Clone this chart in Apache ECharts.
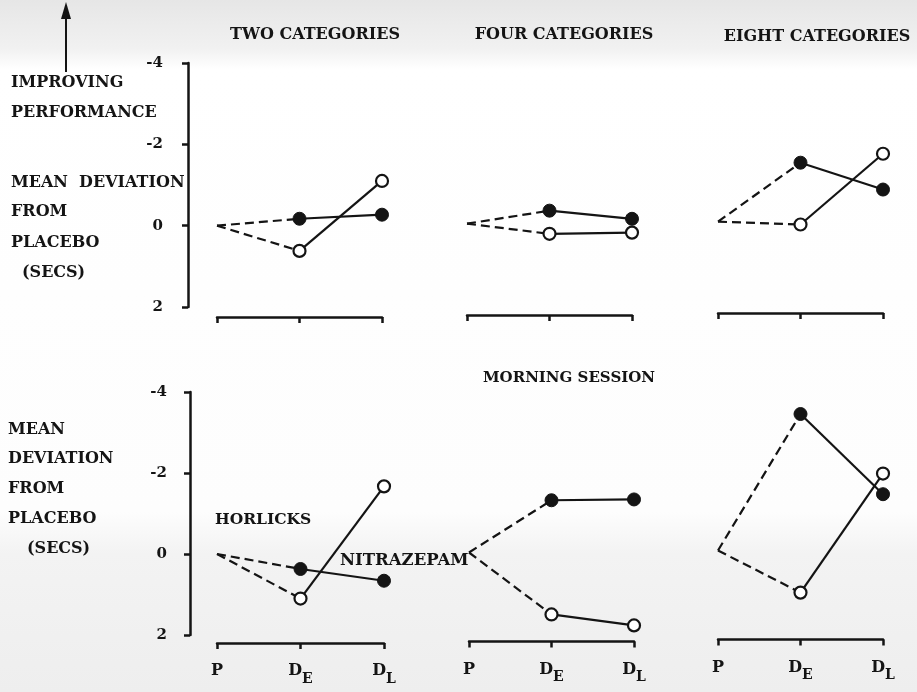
<!DOCTYPE html>
<html>
<head>
<meta charset="utf-8">
<script src="https://cdn.jsdelivr.net/npm/echarts@6/dist/echarts.min.js"></script>
<style>
  html, body { margin: 0; padding: 0; background: #fff; }
  #chart { width: 917px; height: 692px; }
</style>
</head>
<body>
<div id="chart"></div>
<script>
// Treatment points along the x axis
const categories = ['P', 'DE', 'DL'];
const columnTitles = ['TWO CATEGORIES', 'FOUR CATEGORIES', 'EIGHT CATEGORIES'];
const yTicks = [-4, -2, 0, 2];

// Mean deviation from placebo (secs), values at P, D_E, D_L
// Upper row
const nitrazepamTwo = [0, -0.17, -0.27];
const horlicksTwo = [0, 0.62, -1.1];
const nitrazepamFour = [0, -0.32, -0.12];
const horlicksFour = [0, 0.25, 0.22];
const nitrazepamEight = [0, -1.45, -0.79];
const horlicksEight = [0, 0.07, -1.67];
// Lower row (morning session)
const nitrazepamTwoAM = [0, 0.37, 0.66];
const horlicksTwoAM = [0, 1.1, -1.67];
const nitrazepamFourAM = [0, -1.29, -1.31];
const horlicksFourAM = [0, 1.53, 1.8];
const nitrazepamEightAM = [0, -3.37, -1.39];
const horlicksEightAM = [0, 1.04, -1.9];

const panels = [
  { filled: nitrazepamTwo, open: horlicksTwo },
  { filled: nitrazepamFour, open: horlicksFour },
  { filled: nitrazepamEight, open: horlicksEight },
  { filled: nitrazepamTwoAM, open: horlicksTwoAM },
  { filled: nitrazepamFourAM, open: horlicksFourAM },
  { filled: nitrazepamEightAM, open: horlicksEightAM }
];

// Panel boxes (the scanned page sits slightly askew, so later columns ride a little higher)
const boxes = [
  { left: 217, top: 63, width: 165, height: 244 },
  { left: 467, top: 61, width: 165, height: 244 },
  { left: 718, top: 59, width: 165, height: 244 },
  { left: 217, top: 392, width: 167, height: 243 },
  { left: 469, top: 390.5, width: 165, height: 243 },
  { left: 718, top: 388.5, width: 165, height: 243 }
];

const INK = '#141414';
const FONT = 'DejaVu Serif';

const grids = boxes.map(b => ({ left: b.left, top: b.top, width: b.width, height: b.height }));

const xAxes = boxes.map((b, i) => {
  const lower = i >= 3;
  return {
    gridIndex: i,
    type: 'category',
    data: categories,
    boundaryGap: false,
    offset: lower ? 8 : 10,
    axisLine: { onZero: false, lineStyle: { color: INK, width: 2.5 } },
    axisTick: { show: true, length: 6, inside: false, lineStyle: { color: INK, width: 2.5 } },
    axisLabel: {
      show: lower,
      margin: 20,
      formatter: v => v === 'P' ? '{d|P}' : '{d|D}{s|' + v.charAt(1) + '}',
      rich: {
        d: { fontFamily: FONT, fontWeight: 'bold', fontSize: 16, color: INK, verticalAlign: 'top' },
        s: { fontFamily: FONT, fontWeight: 'bold', fontSize: 14, color: INK, padding: [9, 0, 0, 0], verticalAlign: 'bottom' }
      }
    },
    splitLine: { show: false }
  };
});

const yAxes = boxes.map((b, i) => {
  const first = i % 3 === 0;
  return {
    gridIndex: i,
    type: 'value',
    inverse: true,
    min: yTicks[0],
    max: yTicks[yTicks.length - 1],
    interval: 2,
    show: first,
    offset: i === 0 ? 29 : 27,
    axisLine: { show: true, onZero: false, lineStyle: { color: INK, width: 2.5 } },
    axisTick: { show: true, length: 6, lineStyle: { color: INK, width: 2.5 } },
    axisLabel: {
      margin: i === 0 ? 25 : 23,
      fontFamily: FONT, fontWeight: 'bold', fontSize: 15, color: INK
    },
    splitLine: { show: false }
  };
});

// Each group: dashed link from P to D_E, then a solid segment D_E to D_L with markers
const series = [];
panels.forEach((p, i) => {
  [['filled', p.filled], ['open', p.open]].forEach(([kind, vals]) => {
    series.push({
      type: 'line',
      xAxisIndex: i, yAxisIndex: i,
      data: [vals[0], vals[1], null],
      symbol: 'none',
      silent: true,
      z: 2,
      lineStyle: { color: INK, width: 2.2, type: [9, 5] }
    });
    series.push({
      type: 'line',
      xAxisIndex: i, yAxisIndex: i,
      data: [null, vals[1], vals[2]],
      symbol: 'circle',
      symbolSize: kind === 'filled' ? 13 : 12,
      showAllSymbol: true,
      silent: true,
      z: 3,
      lineStyle: { color: INK, width: 2.2 },
      itemStyle: kind === 'filled'
        ? { color: INK, borderColor: INK, borderWidth: 1 }
        : { color: '#ffffff', borderColor: INK, borderWidth: 2.2 }
    });
  });
});

function label(text, x, y, size, align) {
  return {
    type: 'text', x: x, y: y, silent: true,
    style: {
      text: text, align: align || 'left', verticalAlign: 'middle',
      fontFamily: FONT, fontWeight: 'bold', fontSize: size, fill: INK
    }
  };
}

const graphics = [
  // paper tone of the page
  {
    type: 'rect', shape: { x: 0, y: 0, width: 917, height: 692 }, z: -10, silent: true,
    style: {
      fill: new echarts.graphic.LinearGradient(0, 0, 0, 1, [
        { offset: 0, color: '#e6e6e6' },
        { offset: 0.07, color: '#f1f1f1' },
        { offset: 0.1, color: '#ffffff' },
        { offset: 0.74, color: '#fdfdfd' },
        { offset: 0.8, color: '#f3f3f3' },
        { offset: 1, color: '#eeeeee' }
      ])
    }
  },
  // upward arrow: improving performance
  { type: 'line', shape: { x1: 66, y1: 72, x2: 66, y2: 14 }, style: { stroke: INK, lineWidth: 2 }, silent: true },
  { type: 'polygon', shape: { points: [[66, 2], [61, 19], [71, 19]] }, style: { fill: INK }, silent: true },

  label(columnTitles[0], 315, 35, 16, 'center'),
  label(columnTitles[1], 564, 35, 16, 'center'),
  label(columnTitles[2], 817, 37, 16, 'center'),

  label('IMPROVING', 11, 83, 16),
  label('PERFORMANCE', 11, 113, 16),
  label('MEAN  DEVIATION', 11, 183, 16),
  label('FROM', 11, 212, 16),
  label('PLACEBO', 11, 243, 16),
  label('(SECS)', 22, 273, 16),

  label('MEAN', 8, 430, 16),
  label('DEVIATION', 8, 459, 16),
  label('FROM', 8, 489, 16),
  label('PLACEBO', 8, 519, 16),
  label('(SECS)', 27, 549, 16),

  label('HORLICKS', 215, 520, 15.5),
  label('NITRAZEPAM', 340, 561, 16.5),
  label('MORNING SESSION', 483, 378, 15)
];

const chart = echarts.init(document.getElementById('chart'), null, { renderer: 'canvas' });
chart.setOption({
  backgroundColor: '#ffffff',
  animation: false,
  grid: grids,
  xAxis: xAxes,
  yAxis: yAxes,
  series: series,
  graphic: graphics
});
</script>
</body>
</html>
